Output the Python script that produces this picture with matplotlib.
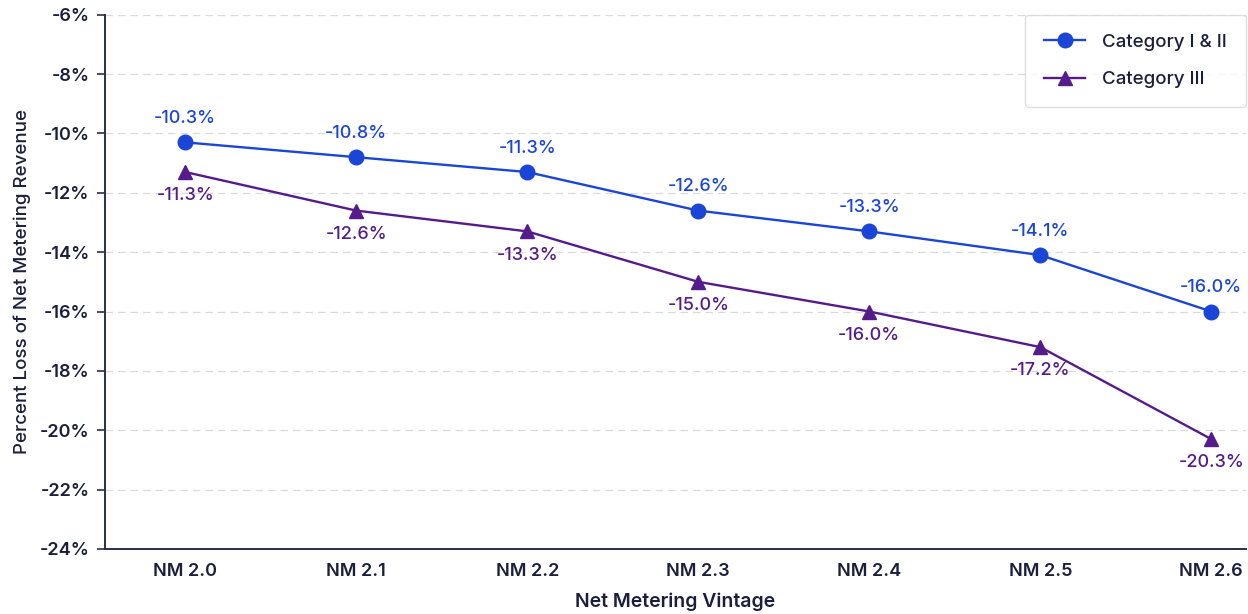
import matplotlib
matplotlib.use("Agg")
import matplotlib.pyplot as plt
from matplotlib.ticker import FuncFormatter

plt.rcParams['font.family'] = ['Inter', 'DejaVu Sans']

vintages = ["NM 2.0", "NM 2.1", "NM 2.2", "NM 2.3", "NM 2.4", "NM 2.5", "NM 2.6"]
cat_1_2 = [-10.3, -10.8, -11.3, -12.6, -13.3, -14.1, -16.0]
cat_3 = [-11.3, -12.6, -13.3, -15.0, -16.0, -17.2, -20.3]
series_names = ["Category I & II", "Category III"]

blue = "#1a45d6"
purple = "#561b8b"
ink = "#1b1f3b"

fig = plt.figure(figsize=(12.48, 6.14), dpi=100)
ax = fig.add_axes([0.084, 0.106, 0.914, 0.870])

x = list(range(len(vintages)))
ax.plot(x, cat_1_2, color=blue, lw=1.7, marker='o', ms=10.5, label=series_names[0], zorder=3)
ax.plot(x, cat_3, color=purple, lw=1.7, marker='^', ms=10.5, label=series_names[1], zorder=3)

for xi, v in zip(x, cat_1_2):
    ax.annotate(f"{v:.1f}%", (xi, v), xytext=(0, 11), textcoords='offset points',
                ha='center', va='bottom', color=blue, fontsize=13, fontweight='medium')
for xi, v in zip(x, cat_3):
    ax.annotate(f"{v:.1f}%", (xi, v), xytext=(0, -11), textcoords='offset points',
                ha='center', va='top', color=purple, fontsize=13, fontweight='medium')

ax.set_ylim(-24, -6)
ax.set_yticks(range(-24, -5, 2))
ax.yaxis.set_major_formatter(FuncFormatter(lambda v, p: f"{int(v)}%"))
ax.set_xlim(-0.47, 6.2)
ax.set_xticks(x)
ax.set_xticklabels(vintages)

ax.grid(axis='y', color='#d9d9de', linestyle=(0, (6, 4)), lw=0.9)
ax.set_axisbelow(True)
for s in ['top', 'right']:
    ax.spines[s].set_visible(False)
for s in ['left', 'bottom']:
    ax.spines[s].set_color('#2a2e4a')
    ax.spines[s].set_linewidth(1.4)

ax.tick_params(axis='y', length=6, width=1.2, color='#2a2e4a', labelsize=13, labelcolor=ink, pad=5)
ax.tick_params(axis='x', length=0, labelsize=13, labelcolor=ink, pad=10)
for lab in ax.get_xticklabels() + ax.get_yticklabels():
    lab.set_fontweight('semibold')

ax.set_xlabel("Net Metering Vintage", fontsize=14, fontweight='semibold', color=ink, labelpad=9)
ax.set_ylabel("Percent Loss of Net Metering Revenue", fontsize=13.5, fontweight='medium', color=ink, labelpad=6)

leg = ax.legend(loc='upper right', fontsize=13.5, frameon=True, fancybox=True,
                borderpad=1.0, labelspacing=1.1, handlelength=2.2, handletextpad=0.9,
                borderaxespad=0.0)
leg.get_frame().set_edgecolor('#d5d7de')
leg.get_frame().set_linewidth(1.0)
for t in leg.get_texts():
    t.set_color(ink)
    t.set_fontweight('medium')

fig.savefig("out.png", dpi=100, facecolor='white')
